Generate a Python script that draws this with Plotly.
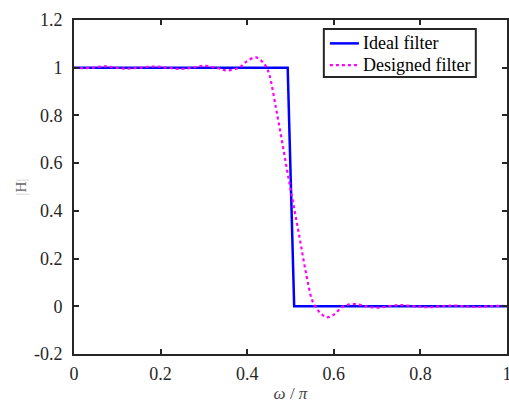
import plotly.graph_objects as go

# Ideal filter (breakpoints)
ideal_w = [0.0, 0.4935, 0.5085, 1.0]
ideal_h = [1.0, 1.0, 0.0, 0.0]

# Designed filter
des_w = [0.000, 0.016, 0.043, 0.069, 0.095, 0.120, 0.150, 0.185, 0.216, 0.247,
         0.274, 0.300, 0.328, 0.353, 0.381, 0.400, 0.420, 0.435, 0.445, 0.452,
         0.466, 0.480, 0.4935, 0.508, 0.522, 0.536, 0.549, 0.557, 0.570, 0.584,
         0.600, 0.622, 0.649, 0.675, 0.699, 0.726, 0.753, 0.785, 0.815, 0.846,
         0.876, 0.903, 0.930, 0.957, 0.984, 1.000]
des_h = [1.000, 0.998, 1.000, 1.006, 1.000, 0.996, 1.000, 1.005, 1.000, 0.995,
         1.000, 1.008, 1.000, 0.989, 1.000, 1.028, 1.043, 1.025, 1.000, 0.965,
         0.835, 0.696, 0.556, 0.416, 0.277, 0.137, 0.030, 0.000, -0.030, -0.046,
         -0.035, 0.000, 0.009, 0.000, -0.006, 0.000, 0.005, 0.000, -0.004, 0.000,
         0.003, 0.000, -0.003, 0.000, 0.002, 0.000]

series_names = ["Ideal filter", "Designed filter"]

x_ticks = [0, 0.2, 0.4, 0.6, 0.8, 1]
x_tick_text = ["0", "0.2", "0.4", "0.6", "0.8", "1"]
y_ticks = [-0.2, 0, 0.2, 0.4, 0.6, 0.8, 1, 1.2]
y_tick_text = ["-0.2", "0", "0.2", "0.4", "0.6", "0.8", "1", "1.2"]

FONT = "Times New Roman"
AX = "#262626"
BLUE = "#0000FF"
MAGENTA = "#FF00FF"

fig = go.Figure()
fig.add_trace(go.Scatter(x=ideal_w, y=ideal_h, mode="lines", name=series_names[0],
                         showlegend=False, line=dict(color=BLUE, width=2.5)))
fig.add_trace(go.Scatter(x=des_w, y=des_h, mode="lines", name=series_names[1],
                         showlegend=False,
                         line=dict(color=MAGENTA, width=2.2, dash="dot", shape="spline",
                                   smoothing=1.0)))

axis_common = dict(showgrid=False, zeroline=False, showline=True, linecolor=AX,
                   linewidth=2, mirror="ticks", ticks="inside", ticklen=5,
                   tickwidth=1.5, tickcolor=AX, automargin=False,
                   ticklabeloverflow="allow",
                   tickfont=dict(family=FONT, size=18, color=AX))

fig.update_xaxes(range=[0, 1], tickvals=x_ticks, ticktext=x_tick_text,
                 title=dict(text="<i>ω</i> / <i>π</i>", font=dict(family=FONT, size=17, color="#444"),
                            standoff=5),
                 ticklabelstandoff=2, **axis_common)
fig.update_yaxes(range=[-0.2, 1.2], tickvals=y_ticks, ticktext=y_tick_text,
                 title=dict(text="<span style='color:#d0d0d0'>|</span>H<span style='color:#d0d0d0'>|</span>",
                            font=dict(family=FONT, size=15, color="#666"), standoff=4),
                 ticklabelstandoff=6, **axis_common)

# Legend box drawn in paper coordinates (MATLAB-style compact legend)
box = dict(x0=0.577, x1=0.928, y0=0.829, y1=0.973)
fig.add_shape(type="rect", xref="paper", yref="paper", **box,
              line=dict(color=AX, width=2), fillcolor="white", layer="above")
rows_y = [0.930, 0.865]
styles = [dict(color=BLUE, width=2.5), dict(color=MAGENTA, width=2.2, dash="dot")]
for name, ry, st in zip(series_names, rows_y, styles):
    fig.add_shape(type="line", xref="paper", yref="paper", x0=0.591, x1=0.658,
                  y0=ry, y1=ry, line=st, layer="above")
    fig.add_annotation(xref="paper", yref="paper", x=0.663, y=ry, text=name,
                       showarrow=False, xanchor="left", yanchor="middle",
                       font=dict(family=FONT, size=18, color="black"))

fig.update_layout(
    width=509, height=405,
    margin=dict(l=74, r=2, t=20, b=51, autoexpand=False),
    paper_bgcolor="white", plot_bgcolor="white",
    font=dict(family=FONT),
    showlegend=False,
)

fig.write_html("out.html", config={"displayModeBar": False},
               post_script="document.body.style.margin='0';document.body.style.overflow='hidden';")
